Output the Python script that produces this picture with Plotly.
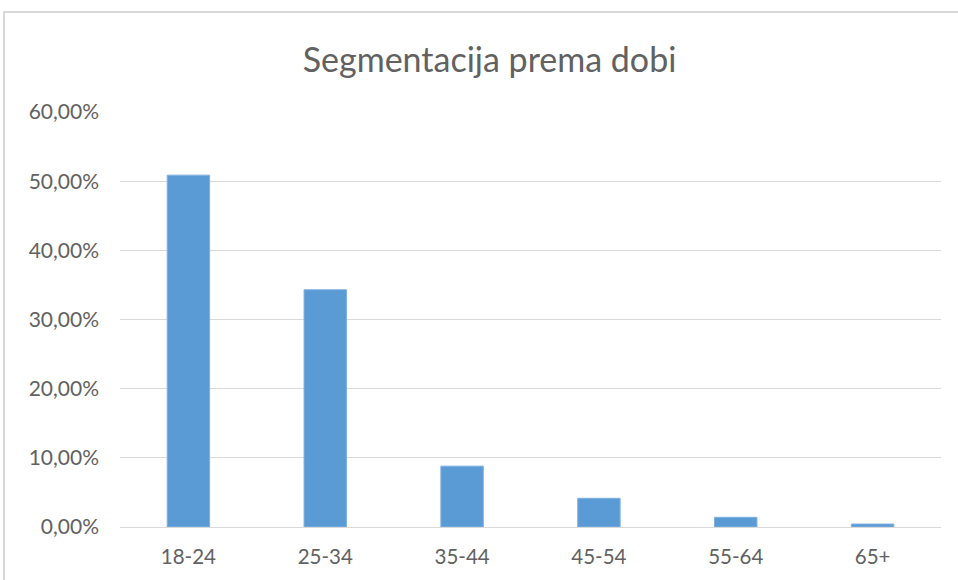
import plotly.graph_objects as go

categories = ["18-24", "25-34", "35-44", "45-54", "55-64", "65+"]
values = [0.5087, 0.3430, 0.0880, 0.0415, 0.0140, 0.0043]
tick_vals = [0, 0.1, 0.2, 0.3, 0.4, 0.5, 0.6]
tick_text = ["0,00%", "10,00%", "20,00%", "30,00%", "40,00%", "50,00%", "60,00%"]
title_text = "Segmentacija prema dobi"

W, H = 958, 580
L, R, T, B = 120, 17, 112, 53
pw, ph = W - L - R, H - T - B

def px_x(x):
    return (x - L) / pw

def px_y(y):
    return (H - B - y) / ph

TXT = "#616161"

fig = go.Figure(go.Bar(
    x=categories, y=values,
    marker=dict(color="#5B9BD5", line=dict(color="#7FB0E0", width=1)),
    width=0.31,
))

fig.update_layout(
    width=W, height=H,
    margin=dict(l=L, r=R, t=T, b=B),
    paper_bgcolor="white", plot_bgcolor="white",
    font=dict(family="Lato, sans-serif", color=TXT),
    title=dict(text=title_text, x=0.511, xanchor="center", y=1 - 60 / H, yanchor="middle",
               font=dict(size=34, color=TXT, family="Lato, sans-serif")),
    showlegend=False,
    xaxis=dict(showgrid=False, showline=True, linecolor="#D9D9D9", linewidth=1,
               tickfont=dict(size=20.5, color=TXT), ticks="", ticklabelstandoff=11),
    yaxis=dict(range=[0, 0.6], tickvals=tick_vals, ticktext=tick_text,
               showgrid=True, gridcolor="#D9D9D9", gridwidth=1, zeroline=False,
               showline=False, ticks="", tickfont=dict(size=21, color=TXT),
               ticklabelstandoff=20),
    shapes=[dict(type="rect", xref="paper", yref="paper",
                 x0=px_x(4), x1=px_x(975), y0=px_y(600), y1=px_y(12),
                 line=dict(color="#D9D9D9", width=2), fillcolor="rgba(0,0,0,0)", layer="below")],
)

fig.write_html("out.html", config={"displayModeBar": False},
               post_script="document.body.style.margin='0';")
